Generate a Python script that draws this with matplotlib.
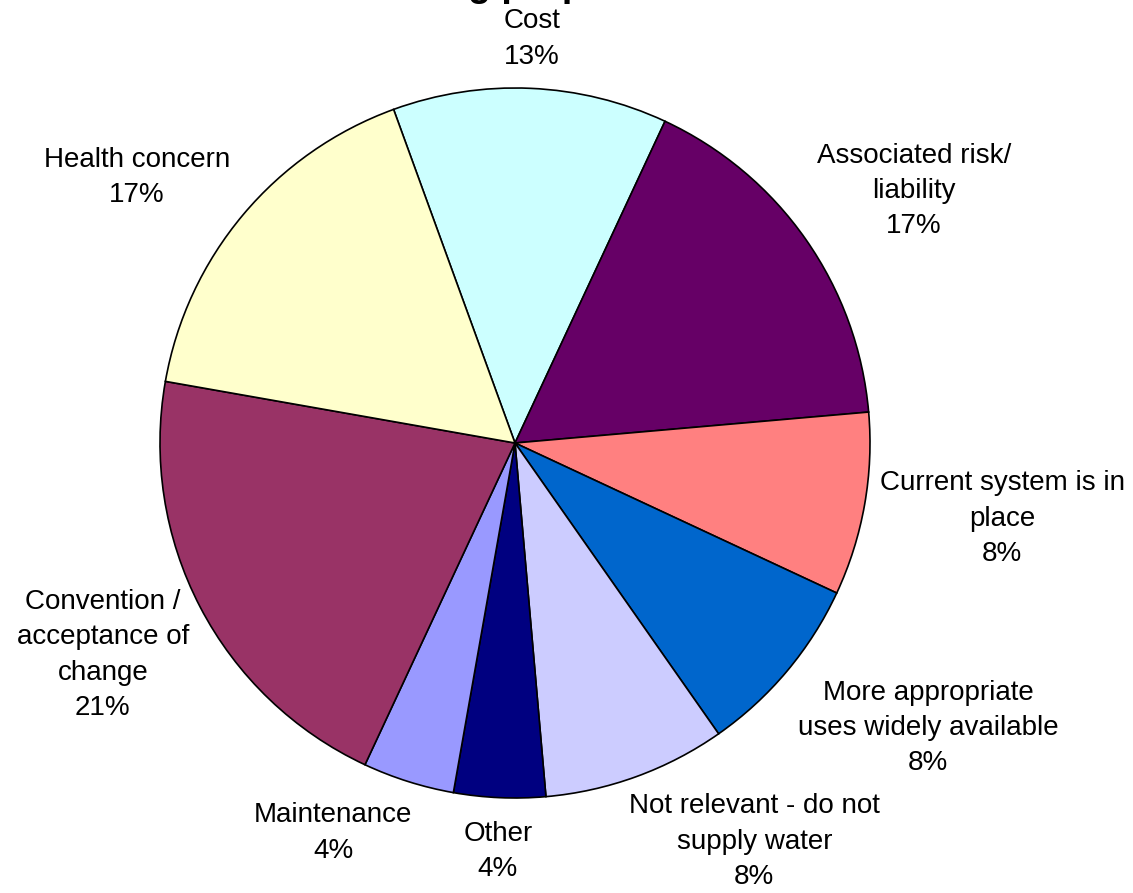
import numpy as np
import matplotlib
matplotlib.use("Agg")
import matplotlib.pyplot as plt

plt.rcParams['font.family'] = ['Liberation Sans', 'DejaVu Sans']

# data (counts out of 24 answers), clockwise from "Cost"
categories = ['Cost', 'Associated risk/\nliability', 'Current system is in\nplace',
              'More appropriate\nuses widely available', 'Not relevant - do not\nsupply water',
              'Other', 'Maintenance', 'Convention /\nacceptance of\nchange', 'Health concern']
counts = [3, 4, 2, 2, 2, 1, 1, 5, 4]
pct_labels = ['13%', '17%', '8%', '8%', '8%', '4%', '4%', '21%', '17%']

colors = ['#CCFFFF', '#660066', '#FF8080', '#0066CC', '#CCCCFF',
          '#000080', '#9999FF', '#993366', '#FFFFCC']

# label placement (radius multiples and angle nudges, deg clockwise)
label_dist = [1.145, 1.332, 1.388, 1.41, 1.305, 1.145, 1.207, 1.303, 1.305]
label_nudge = [-0.1, 2.5, -1.4, -5.6, -11.1, -0.1, 7.6, 0.5, -4.7]

W, H = 1133, 893
cx, cy, R = 515, 443, 355

fig = plt.figure(figsize=(W / 100, H / 100), dpi=100)
ax = fig.add_axes([0, 0, 1, 1])

wedges, _ = ax.pie(counts, colors=colors, startangle=110, counterclock=False,
                   radius=1, wedgeprops=dict(edgecolor='black', linewidth=1.2))

for w, cat, pct, d, nd in zip(wedges, categories, pct_labels, label_dist, label_nudge):
    mid = np.deg2rad((w.theta1 + w.theta2) / 2 - nd)
    ax.text(d * np.cos(mid), d * np.sin(mid) - 0.006, cat + '\n' + pct,
            ha='center', va='center', fontsize=20, linespacing=1.47)

ax.set_xlim(-cx / R, (W - cx) / R)
ax.set_ylim(-(H - cy) / R, cy / R)
ax.set_aspect('auto')
ax.axis('off')

# title sits mostly above the figure edge, as in the original
prefix = 'Reasons for not usin'
t = fig.text(0, 0, prefix, fontsize=27, fontweight='bold')
fig.canvas.draw()
pw = t.get_window_extent().width
t.remove()
fig.text((468 - pw) / W, 1 + 4 / H, 'Reasons for not using proposal',
         fontsize=27, fontweight='bold', ha='left', va='baseline')

fig.savefig('out.png', dpi=100)
